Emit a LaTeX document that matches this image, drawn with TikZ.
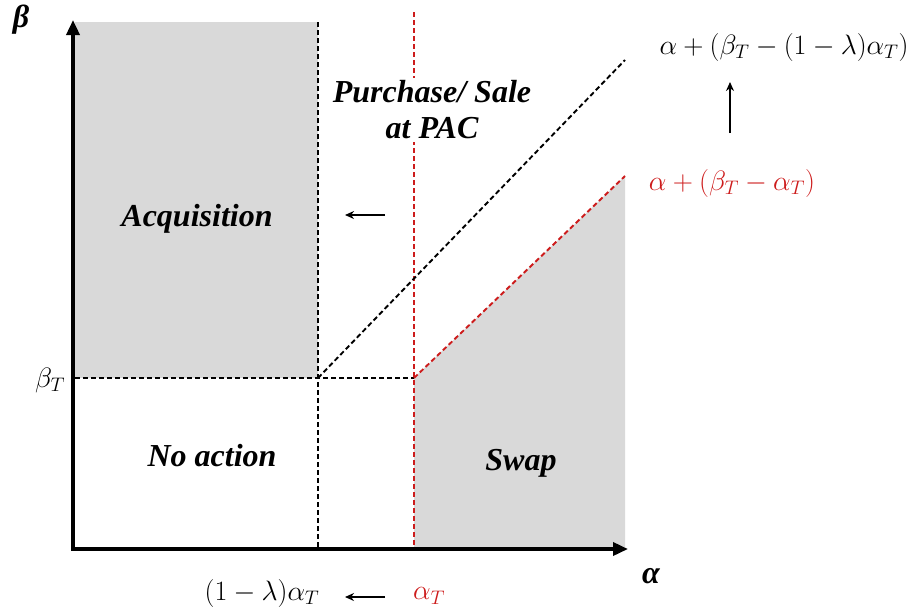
\documentclass[tikz,border=0pt]{standalone}
\usepackage{fix-cm}
\usepackage{fontspec}
\setmainfont{Liberation Serif}
\usetikzlibrary{arrows.meta}
\definecolor{regiongray}{RGB}{217,217,217}
\definecolor{lred}{RGB}{205,28,28}
\tikzset{
  axis/.style={line width=3.5pt,-{Triangle[length=15pt,width=13pt]}},
  bdash/.style={line width=1.9pt,dash pattern=on 5pt off 3pt,black},
  rdash/.style={line width=1.9pt,dash pattern=on 5pt off 3pt,lred},
  region/.style={font=\fontsize{32}{36}\selectfont\bfseries\itshape,align=center,inner sep=2pt},
  mlab/.style={font=\fontsize{28}{32}\selectfont,inner sep=0pt},
  small arrow/.style={line width=1.4pt,-{Stealth[length=9pt,width=8pt]}}
}
\begin{document}
\begin{tikzpicture}[x=1pt,y=-1pt]
\useasboundingbox (0,0) rectangle (922,611);
% key points
\coordinate (O) at (73,549);
\coordinate (ytop) at (73,20);
\coordinate (xend) at (628,549);
\coordinate (bk) at (318,378);
\coordinate (rk) at (414,378);
\coordinate (bv top) at (318,22);
\coordinate (bv bot) at (318,549);
\coordinate (rv top) at (414,12);
\coordinate (rv bot) at (414,549);
\coordinate (h left) at (75,378);
\coordinate (bd end) at (625,60);
\coordinate (rd end) at (625,176);
% grey regions
\fill[regiongray] (75,22) rectangle (bk);
\fill[regiongray] (rk) -- (rd end) -- (625,547) -- (414,547) -- cycle;
% dashed lines
\draw[bdash] (bv top) -- (bv bot);
\draw[rdash] (rv top) -- (rv bot);
\draw[bdash] (h left) -- (rk);
\draw[bdash] (bk) -- (bd end);
\draw[rdash] (rk) -- (rd end);
% region labels
\node[region,fill=white,inner sep=3pt] (pac) at (432,110) {Purchase/ Sale\\at PAC};
\node[region] (acq) at (197,219) {Acquisition};
\node[region] (noact) at (212,456) {No action};
\node[region] (swap) at (521,463) {Swap};
% axes
\draw[axis] (O) -- (ytop);
\draw[axis] ([xshift=-1.75pt]O) -- (xend);
\node[font=\fontsize{32}{36}\selectfont\bfseries\itshape] (beta) at (21,20) {β};
\node[font=\fontsize{32}{36}\selectfont\bfseries\itshape] (alpha) at (651,576) {α};
% axis value labels
\node[mlab] (betaT) at (50,380) {$\beta_T$};
\node[mlab] (lamAlpha) at (262,593) {$(1-\lambda)\alpha_T$};
\node[mlab,text=lred] (alphaT) at (429,596) {$\alpha_T$};
\coordinate (ba1) at (385,597);
\coordinate (ba2) at (345,597);
\draw[small arrow] (ba1) -- (ba2);
% right labels
\node[mlab] (upper) at (784,47) {$\alpha+(\beta_T-(1-\lambda)\alpha_T)$};
\node[mlab,text=lred] (lower) at (732,183) {$\alpha+(\beta_T-\alpha_T)$};
\coordinate (ua1) at (730,133);
\coordinate (ua2) at (730,82);
\draw[small arrow] (ua1) -- (ua2);
% left arrow
\coordinate (la1) at (385,215);
\coordinate (la2) at (345,215);
\draw[small arrow] (la1) -- (la2);
\end{tikzpicture}
\end{document}
